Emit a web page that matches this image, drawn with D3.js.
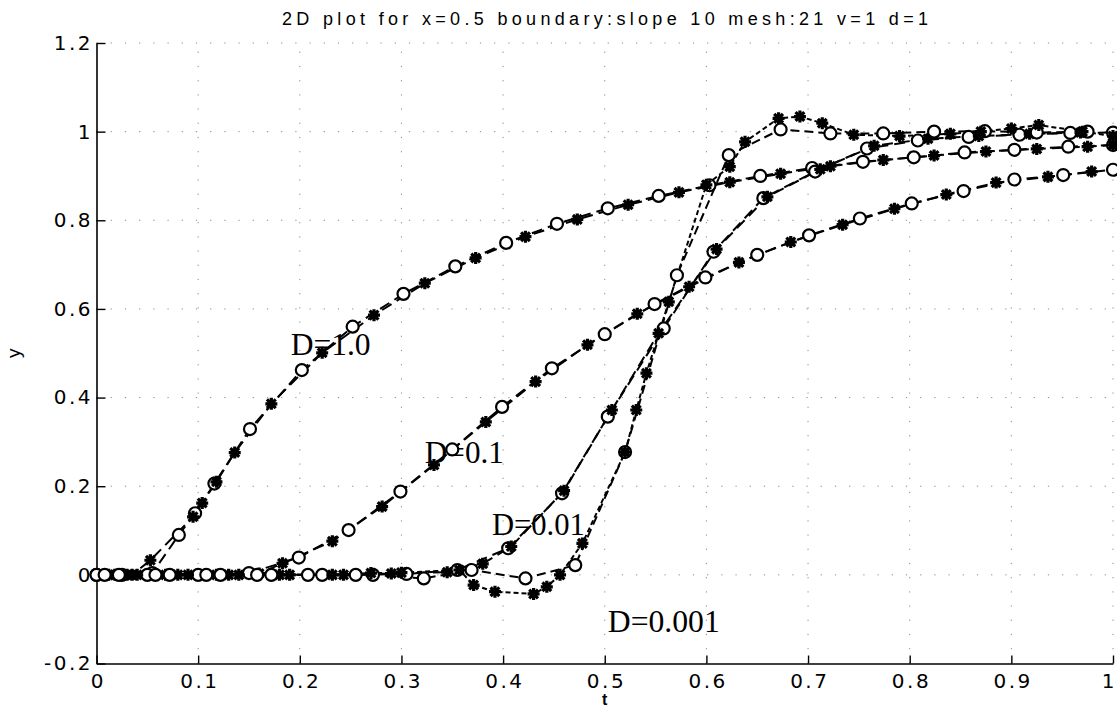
<!DOCTYPE html>
<html>
<head>
<meta charset="utf-8">
<script src="https://cdn.jsdelivr.net/npm/d3@7"></script>
<style>
  html, body { margin: 0; padding: 0; background: #fff; }
  svg { display: block; }
</style>
</head>
<body>
<svg id="chart" width="1117" height="713"></svg>
<script>
// ---- data ----------------------------------------------------------------
const chartTitle = "2D plot for x=0.5 boundary:slope 10 mesh:21 v=1 d=1";
const xLabel = "t";
const yLabel = "y";

const xTickValues = [0, 0.1, 0.2, 0.3, 0.4, 0.5, 0.6, 0.7, 0.8, 0.9, 1];
const xTickLabels = ["0", "0.1", "0.2", "0.3", "0.4", "0.5", "0.6", "0.7", "0.8", "0.9", "1"];
const yTickValues = [-0.2, 0, 0.2, 0.4, 0.6, 0.8, 1, 1.2];
const yTickLabels = ["-0.2", "0", "0.2", "0.4", "0.6", "0.8", "1", "1.2"];

const curveNames = ["D=1.0", "D=0.1", "D=0.01", "D=0.001"];

// D = 1.0
const d1CircleT = [0, 0.025, 0.055, 0.081, 0.097, 0.116, 0.151, 0.202, 0.252, 0.302, 0.353, 0.403, 0.453, 0.503, 0.553, 0.603, 0.653, 0.704, 0.754, 0.804, 0.854, 0.903, 0.956, 1.0];
const d1CircleY = [0, 0, 0.004, 0.09, 0.139, 0.206, 0.329, 0.462, 0.560, 0.634, 0.696, 0.749, 0.792, 0.827, 0.855, 0.879, 0.900, 0.918, 0.932, 0.942, 0.953, 0.959, 0.966, 0.970];
const d1StarT = [0.012, 0.035, 0.053, 0.095, 0.104, 0.118, 0.136, 0.172, 0.222, 0.273, 0.323, 0.373, 0.422, 0.473, 0.523, 0.573, 0.623, 0.673, 0.722, 0.774, 0.824, 0.875, 0.925, 0.975, 1.0];
const d1StarY = [0, 0, 0.033, 0.131, 0.162, 0.21, 0.276, 0.386, 0.501, 0.586, 0.658, 0.715, 0.763, 0.802, 0.835, 0.863, 0.886, 0.905, 0.922, 0.936, 0.946, 0.955, 0.961, 0.966, 0.970];

// D = 0.1
const d01CircleT = [0, 0.05, 0.1, 0.15, 0.199, 0.248, 0.299, 0.35, 0.399, 0.448, 0.5, 0.549, 0.599, 0.65, 0.701, 0.751, 0.802, 0.853, 0.903, 0.951, 1.0];
const d01CircleY = [0, 0, 0, 0.004, 0.039, 0.101, 0.188, 0.283, 0.379, 0.466, 0.543, 0.611, 0.671, 0.722, 0.766, 0.804, 0.838, 0.866, 0.892, 0.902, 0.914];
const d01StarT = [0.018, 0.068, 0.118, 0.16, 0.183, 0.232, 0.281, 0.332, 0.383, 0.432, 0.483, 0.532, 0.583, 0.632, 0.683, 0.734, 0.785, 0.836, 0.885, 0.936, 0.979];
const d01StarY = [0, 0, 0, 0.003, 0.026, 0.076, 0.154, 0.248, 0.345, 0.436, 0.519, 0.589, 0.650, 0.705, 0.751, 0.790, 0.826, 0.858, 0.885, 0.898, 0.910];

// D = 0.01
const d001CircleT = [0.008, 0.058, 0.108, 0.158, 0.208, 0.255, 0.305, 0.355, 0.405, 0.458, 0.503, 0.558, 0.607, 0.656, 0.707, 0.758, 0.808, 0.858, 0.908, 0.958, 1.0];
const d001CircleY = [0, 0, 0, 0, 0, 0, 0.002, 0.011, 0.06, 0.184, 0.357, 0.556, 0.729, 0.85, 0.91, 0.962, 0.98, 0.988, 0.993, 0.997, 0.998];
const d001StarT = [0.03, 0.08, 0.13, 0.18, 0.243, 0.29, 0.345, 0.38, 0.408, 0.46, 0.507, 0.553, 0.61, 0.66, 0.712, 0.765, 0.818, 0.868, 0.918, 0.968];
const d001StarY = [0, 0, 0, 0, 0, 0.003, 0.006, 0.025, 0.064, 0.19, 0.372, 0.545, 0.735, 0.853, 0.915, 0.968, 0.984, 0.99, 0.995, 0.998];

// D = 0.001
const d0001CircleT = [0.022, 0.072, 0.122, 0.172, 0.222, 0.272, 0.322, 0.369, 0.422, 0.471, 0.52, 0.571, 0.622, 0.673, 0.722, 0.774, 0.824, 0.874, 0.925, 0.975];
const d0001CircleY = [0, 0, 0, 0, 0, 0, -0.008, 0.011, -0.008, 0.022, 0.277, 0.676, 0.947, 1.005, 0.996, 0.996, 1.0, 1.001, 0.998, 1.0];
const d0001StarT = [0.04, 0.09, 0.14, 0.19, 0.232, 0.27, 0.30, 0.357, 0.371, 0.392, 0.43, 0.443, 0.456, 0.478, 0.52, 0.531, 0.541, 0.563, 0.60, 0.623, 0.638, 0.671, 0.692, 0.714, 0.745, 0.79, 0.84, 0.87, 0.9, 0.927, 0.97, 1.0];
const d0001StarY = [0, 0, 0, 0, 0, 0.004, 0.005, 0.011, -0.023, -0.038, -0.043, -0.027, 0.0, 0.071, 0.277, 0.372, 0.455, 0.616, 0.88, 0.921, 0.977, 1.03, 1.034, 1.019, 0.993, 0.99, 0.995, 1.0, 1.007, 1.015, 1.0, 0.99];

// where each curve's annotation sits (data units, left end of the baseline)
const labelT = [0.191, 0.323, 0.389, 0.503];
const labelY = [0.496, 0.252, 0.090, -0.129];

// ---- layout ---------------------------------------------------------------
const svg = d3.select("#chart");
const x = d3.scaleLinear().domain([0, 1]).range([96.5, 1113]);
const y = d3.scaleLinear().domain([-0.2, 1.2]).range([663.5, 43]);

const zip = (ts, ys) => ts.map((t, i) => ({ t, y: ys[i] }));

const curves = [
  { name: curveNames[0], circles: zip(d1CircleT, d1CircleY), stars: zip(d1StarT, d1StarY), dashC: "11,6", dashS: "11,6" },
  { name: curveNames[1], circles: zip(d01CircleT, d01CircleY), stars: zip(d01StarT, d01StarY), dashC: "11,6", dashS: "11,6" },
  { name: curveNames[2], circles: zip(d001CircleT, d001CircleY), stars: zip(d001StarT, d001StarY), dashC: "11,6", dashS: "11,6" },
  { name: curveNames[3], circles: zip(d0001CircleT, d0001CircleY), stars: zip(d0001StarT, d0001StarY), dashC: "9,5", dashS: "5,3" }
];

// ---- grid (sparse dots) -------------------------------------------------------
const grid = svg.append("g").attr("stroke", "#000").attr("stroke-width", 1)
  .attr("stroke-dasharray", "1.2,13").attr("opacity", 0.45);
grid.selectAll("line.gx").data(xTickValues.slice(1)).join("line")
  .attr("x1", d => x(d)).attr("x2", d => x(d))
  .attr("y1", y(-0.2)).attr("y2", y(1.2));
grid.selectAll("line.gy").data(yTickValues.slice(1)).join("line")
  .attr("x1", x(0)).attr("x2", x(1))
  .attr("y1", d => y(d)).attr("y2", d => y(d));

// ---- axes -----------------------------------------------------------------
const axisFont = "'DejaVu Sans', 'Liberation Sans', sans-serif";
const spacing = 2.5;

const yAxis = svg.append("g").attr("transform", `translate(${x(0)},0)`)
  .call(d3.axisLeft(y).tickValues(yTickValues)
    .tickFormat((d, i) => yTickLabels[i]).tickSize(-9).tickPadding(6).tickSizeOuter(0));
yAxis.selectAll("text")
  .attr("font-family", axisFont).attr("font-size", 20).attr("fill", "#000")
  .attr("letter-spacing", spacing).attr("x", -6 + spacing);

const xAxis = svg.append("g").attr("transform", `translate(0,${y(-0.2)})`)
  .call(d3.axisBottom(x).tickValues(xTickValues)
    .tickFormat((d, i) => xTickLabels[i]).tickSize(-8).tickPadding(10).tickSizeOuter(0));
xAxis.selectAll("text")
  .attr("font-family", axisFont).attr("font-size", 20).attr("fill", "#000")
  .attr("letter-spacing", spacing).attr("dx", spacing / 2);
// the last label sits against the right edge of the page
xAxis.selectAll(".tick").filter(d => d === 1).select("text")
  .attr("text-anchor", "end").attr("dx", spacing + 1);

[yAxis, xAxis].forEach(a => {
  a.select(".domain").attr("stroke", "#000").attr("stroke-width", 1.6);
  a.selectAll(".tick line").attr("stroke", "#000").attr("stroke-width", 1.4);
});

// ---- title and axis names ---------------------------------------------------
svg.append("text")
  .attr("x", 282).attr("y", 25)
  .attr("font-family", "'Liberation Sans', Arial, sans-serif").attr("font-size", 18)
  .attr("textLength", 646).attr("lengthAdjust", "spacing")
  .text(chartTitle);

svg.append("text")
  .attr("x", (x(0) + x(1)) / 2).attr("y", 705)
  .attr("text-anchor", "middle")
  .attr("font-family", "'Liberation Sans', Arial, sans-serif").attr("font-size", 16)
  .attr("font-weight", "bold")
  .text(xLabel);

svg.append("text")
  .attr("transform", `translate(20,${(y(-0.2) + y(1.2)) / 2}) rotate(-90)`)
  .attr("text-anchor", "middle")
  .attr("font-family", "'Liberation Sans', Arial, sans-serif").attr("font-size", 19)
  .text(yLabel);

// ---- curve annotations ------------------------------------------------------
const labelWidths = [80, 79, 93, 112];
svg.append("g").selectAll("text").data(curves).join("text")
  .attr("x", (d, i) => x(labelT[i])).attr("y", (d, i) => y(labelY[i]))
  .attr("font-family", "'Liberation Serif', 'Times New Roman', serif")
  .attr("font-size", 32)
  .attr("textLength", (d, i) => labelWidths[i]).attr("lengthAdjust", "spacingAndGlyphs")
  .text(d => d.name);

// ---- dashed curves ----------------------------------------------------------
const line = d3.line().x(d => x(d.t)).y(d => y(d.y));
const lines = svg.append("g").attr("fill", "none").attr("stroke", "#000").attr("stroke-width", 2);
curves.forEach(c => {
  lines.append("path").attr("d", line(c.circles)).attr("stroke-dasharray", c.dashC);
  lines.append("path").attr("d", line(c.stars)).attr("stroke-dasharray", c.dashS);
});

// ---- markers ----------------------------------------------------------------
const starPath = "M-6,0H6M0,-6V6M-4.4,-4.4L4.4,4.4M-4.4,4.4L4.4,-4.4";
const marks = svg.append("g");
curves.forEach(c => {
  marks.append("g").selectAll("circle").data(c.circles).join("circle")
    .attr("cx", d => x(d.t)).attr("cy", d => y(d.y)).attr("r", 6)
    .attr("fill", "#fff").attr("stroke", "#000").attr("stroke-width", 2.2);
  marks.append("g").selectAll("path").data(c.stars).join("path")
    .attr("transform", d => `translate(${x(d.t)},${y(d.y)})`)
    .attr("d", starPath)
    .attr("fill", "none").attr("stroke", "#000").attr("stroke-width", 3.2);
});
</script>
</body>
</html>
